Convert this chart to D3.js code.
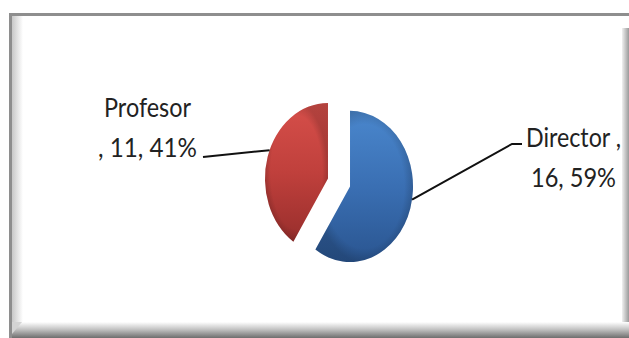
<!DOCTYPE html>
<html>
<head>
<meta charset="utf-8">
<script src="https://cdn.jsdelivr.net/npm/d3@7/dist/d3.min.js"></script>
<style>
  html, body { margin: 0; padding: 0; background: #fff; }
  svg { display: block; }
  .lbl { font-family: Lato, "Open Sans", sans-serif; font-size: 24px; fill: #222; }
</style>
</head>
<body>
<svg id="chart" width="629" height="338"></svg>
<script>
// Staff categories and counts
const categories = ["Director", "Profesor"];
const counts = [16, 11];
// How each data label wraps onto two lines
const labelLines = [
  d => [`${d.name} ,`, `${d.value}, ${d.pct}%`],
  d => [`${d.name}`, `, ${d.value}, ${d.pct}%`]
];

const W = 629, H = 338;
const svg = d3.select("#chart");
const defs = svg.append("defs");

// ---- chart area frame with bevelled edges ----
svg.append("rect").attr("x", 0).attr("y", 0).attr("width", W).attr("height", H).attr("fill", "#fff");

function linGrad(id, x1, y1, x2, y2, stops) {
  const g = defs.append("linearGradient").attr("id", id)
    .attr("x1", x1).attr("y1", y1).attr("x2", x2).attr("y2", y2);
  stops.forEach(s => g.append("stop").attr("offset", s[0]).attr("stop-color", s[1]).attr("stop-opacity", s[2] == null ? 1 : s[2]));
  return `url(#${id})`;
}

const leftBevel = linGrad("leftBevel", 0, 0, 1, 0, [[0, "#c8c8c8"], [1, "#ffffff"]]);
const rightBevel = linGrad("rightBevel", 0, 0, 1, 0, [[0, "#f0f0f0"], [1, "#9a9a9a"]]);
const bottomBevel = linGrad("bottomBevel", 0, 0, 0, 1, [[0, "#ffffff"], [0.45, "#c4c4c4"], [1, "#6e6e6e"]]);

svg.append("rect").attr("x", 12).attr("y", 16).attr("width", 11).attr("height", 306).attr("fill", leftBevel);
svg.append("rect").attr("x", 622).attr("y", 28).attr("width", 7).attr("height", 300).attr("fill", rightBevel);
svg.append("path").attr("d", "M12,322 L629,322 L629,338 L12,338 Z").attr("fill", bottomBevel);
svg.append("path").attr("d", "M12,322 L22,322 L12,334 Z").attr("fill", "#d4d4d4");
svg.append("rect").attr("x", 9).attr("y", 13).attr("width", W - 9).attr("height", 3).attr("fill", "#8e8e8e");
svg.append("rect").attr("x", 9).attr("y", 13).attr("width", 3).attr("height", H - 13).attr("fill", "#8e8e8e");

// ---- pie ----
const data = categories.map((c, i) => ({ name: c, value: counts[i] }));
const total = d3.sum(counts);
data.forEach(d => d.pct = Math.round(d.value / total * 100));

const cx = 339, cy = 182.5, r = 63, squash = 1.2, explode = 11.5;
const pie = d3.pie().value(d => d.value).sort(null);
const arc = d3.arc().innerRadius(0).outerRadius(r);
const arcs = pie(data);

const fills = [
  linGrad("gBlue", 0, 0, 0, 1, [[0, "#4a87cd"], [0.5, "#3a6fb3"], [1, "#2a5590"]]),
  linGrad("gRed", 0, 0, 0, 1, [[0, "#d64f4a"], [0.5, "#c0403c"], [1, "#982e2c"]])
];
const rim = defs.append("radialGradient").attr("id", "rim").attr("cx", 0.5).attr("cy", 0.5).attr("r", 0.5);
rim.append("stop").attr("offset", 0.82).attr("stop-color", "#000").attr("stop-opacity", 0);
rim.append("stop").attr("offset", 1).attr("stop-color", "#000").attr("stop-opacity", 0.16);

const g = svg.append("g").attr("transform", `translate(${cx},${cy}) scale(1,${squash})`);
const mid = a => (a.startAngle + a.endAngle) / 2;
const off = a => [Math.sin(mid(a)) * explode, -Math.cos(mid(a)) * explode];

const slice = g.selectAll("g.slice").data(arcs).join("g")
  .attr("class", "slice")
  .attr("transform", a => `translate(${off(a)[0]},${off(a)[1]})`);
slice.append("path").attr("d", arc).attr("fill", (a, i) => fills[i]);
slice.append("path").attr("d", arc).attr("fill", "url(#rim)");

// point on a slice's rim, a little way round from its mid-angle, in page coordinates
function edgePoint(a, turn) {
  const m = mid(a) + turn;
  const o = off(a);
  return [cx + o[0] + Math.sin(m) * r, cy + (o[1] - Math.cos(m) * r) * squash];
}

// ---- leader lines and labels ----
const labelLayout = [
  { turn: -0.115, elbow: [512, 144], end: [522, 144], x: 573.5, y0: 147 },
  { turn: 0.094, elbow: null, end: [203, 157], x: 147.5, y0: 117 }
];
const lineWidths = [[95, 85], [87, 99]];
const textStretch = 1.15;

arcs.forEach((a, i) => {
  const L = labelLayout[i];
  const pts = [edgePoint(a, L.turn)];
  if (L.elbow) pts.push(L.elbow);
  pts.push(L.end);
  svg.append("path").attr("d", d3.line()(pts))
    .attr("fill", "none").attr("stroke", "#111").attr("stroke-width", 2);

  labelLines[i](a.data).forEach((t, k) => {
    svg.append("text").attr("class", "lbl")
      .attr("transform", `translate(${L.x},${L.y0 + k * 40}) scale(1,${textStretch})`)
      .attr("text-anchor", "middle")
      .attr("textLength", lineWidths[i][k])
      .attr("lengthAdjust", "spacingAndGlyphs")
      .text(t);
  });
});
</script>
</body>
</html>
